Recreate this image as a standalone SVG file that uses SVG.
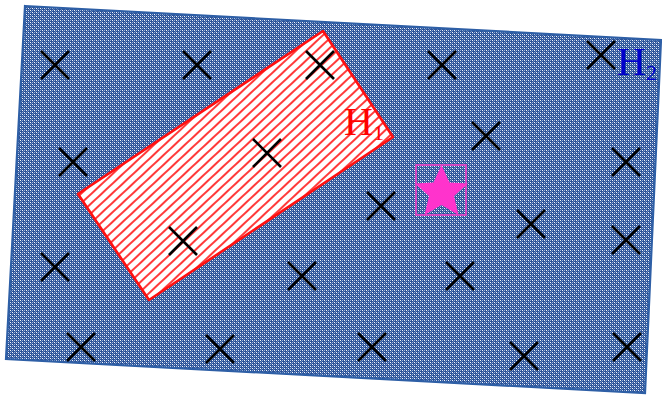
<svg xmlns="http://www.w3.org/2000/svg" width="662" height="395" viewBox="0 0 662 395">
<style>
.x{stroke:#000;stroke-width:2.6;fill:none;stroke-linecap:butt}
.lbl{font-family:"Liberation Serif","Times New Roman",serif;font-size:40px}
</style>
<defs>
<pattern id="blue" width="4" height="4" patternUnits="userSpaceOnUse">
<rect width="4" height="4" fill="#2C5397"/>
<rect x="0" y="0" width="1" height="1" fill="#F4F7FC"/>
<rect x="2" y="2" width="1" height="1" fill="#F4F7FC"/>
<rect x="2" y="0" width="1" height="1" fill="#9AB2DA"/>
<rect x="0" y="2" width="1" height="1" fill="#9AB2DA"/>
<rect x="1" y="1" width="1" height="1" fill="#6585BD"/>
<rect x="3" y="3" width="1" height="1" fill="#6585BD"/>
</pattern>
<pattern id="red" width="7" height="7" patternUnits="userSpaceOnUse" patternTransform="rotate(-43)">
<rect width="7" height="7" fill="#fff"/>
<rect x="0" y="0" width="7" height="2" fill="#FF3A3A"/>
</pattern>
<clipPath id="h1clip"><polygon points="323,31 393,137 149,300 78,194"/></clipPath>
<symbol id="cross" overflow="visible"><path class="x" d="M-14,-14L14,14M14,-14L-14,14"/></symbol>
</defs>
<g id="H2">
<polygon points="25,6 661,40 645,393 6,359" fill="url(#blue)" stroke="#2E5FA6" stroke-width="2.2"/>
</g>
<g id="H1">
<polygon points="323,31 393,137 149,300 78,194" fill="url(#red)" stroke="#FF1010" stroke-width="2.6" stroke-linejoin="round"/>
<text class="lbl" x="344" y="135" fill="#FF0000" clip-path="url(#h1clip)">H<tspan font-size="22" dy="5">1</tspan></text>
</g>
<g id="star">
<rect x="416" y="165" width="50" height="50" fill="none" stroke="#F03CC8" stroke-width="1.6"/>
<polygon points="441.5,165 449.5,182.5 468,183.5 454,196 458.5,215 441.5,205 424.5,215 429,196 415,183.5 433.5,182.5" fill="#FF33CC"/>
</g>
<g id="crosses">
<use href="#cross" x="55" y="65"/>
<use href="#cross" x="197" y="65"/>
<use href="#cross" x="320" y="65"/>
<use href="#cross" x="442" y="65"/>
<use href="#cross" x="601" y="55"/>
<use href="#cross" x="73" y="162"/>
<use href="#cross" x="267" y="153"/>
<use href="#cross" x="486" y="136"/>
<use href="#cross" x="626" y="162"/>
<use href="#cross" x="381" y="206"/>
<use href="#cross" x="531" y="224"/>
<use href="#cross" x="626" y="240"/>
<use href="#cross" x="183" y="241"/>
<use href="#cross" x="55" y="267"/>
<use href="#cross" x="302" y="276"/>
<use href="#cross" x="460" y="276"/>
<use href="#cross" x="81" y="347"/>
<use href="#cross" x="220" y="349"/>
<use href="#cross" x="372" y="347"/>
<use href="#cross" x="524" y="356"/>
<use href="#cross" x="627" y="347"/>
</g>
<g id="H2label">
<text class="lbl" x="617" y="75" fill="#0000CC">H<tspan font-size="22" dy="5">2</tspan></text>
</g>
</svg>
